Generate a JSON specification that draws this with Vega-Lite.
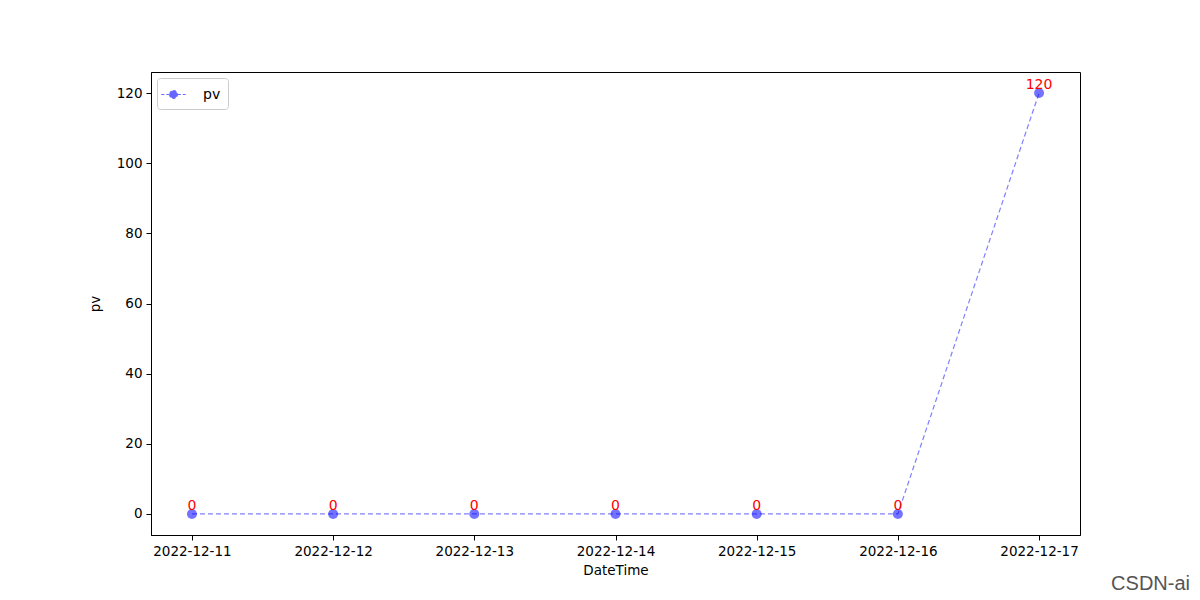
{
  "$schema": "https://vega.github.io/schema/vega-lite/v6.json",
  "autosize": {"type": "none"},
  "width": 929,
  "height": 463,
  "padding": {"left": 151, "top": 72, "right": 120, "bottom": 65},
  "background": "white",
  "config": {
    "font": "DejaVu Sans",
    "view": {"stroke": "black", "strokeWidth": 1},
    "axis": {"grid": false, "domainColor": "black", "tickColor": "black", "labelColor": "black", "titleColor": "black", "labelFontSize": 13.5, "titleFontSize": 13.5, "titleFontWeight": "normal", "tickSize": 5, "labelPadding": 4}
  },
  "data": {"values": [
    {"DateTime": "2022-12-11", "pv": 0, "series": "pv"},
    {"DateTime": "2022-12-12", "pv": 0, "series": "pv"},
    {"DateTime": "2022-12-13", "pv": 0, "series": "pv"},
    {"DateTime": "2022-12-14", "pv": 0, "series": "pv"},
    {"DateTime": "2022-12-15", "pv": 0, "series": "pv"},
    {"DateTime": "2022-12-16", "pv": 0, "series": "pv"},
    {"DateTime": "2022-12-17", "pv": 120, "series": "pv"}
  ]},
  "title": {"text": "CSDN-ai", "orient": "bottom", "anchor": "end", "frame": "group", "dx": 110, "offset": -3, "color": "#555555", "fontSize": 20, "fontWeight": "normal", "font": "Liberation Sans"},
  "encoding": {
    "x": {"field": "DateTime", "type": "ordinal", "scale": {"type": "point", "padding": 0.29}, "axis": {"labelAngle": 0, "title": "DateTime", "titlePadding": 6}},
    "y": {"field": "pv", "type": "quantitative", "scale": {"domain": [-6, 126], "nice": false, "zero": false}, "axis": {"values": [0, 20, 40, 60, 80, 100, 120], "title": "pv", "titlePadding": 14}}
  },
  "layer": [
    {
      "mark": {"type": "line", "strokeDash": [5, 3], "strokeWidth": 1.2, "opacity": 0.5, "point": {"filled": true, "size": 100, "opacity": 0.55, "color": "blue"}},
      "encoding": {
        "color": {"field": "series", "type": "nominal", "scale": {"range": ["blue"]}, "legend": {"title": null, "orient": "top-left", "offset": 6, "labelFontSize": 14, "labelColor": "black", "strokeColor": "#cccccc", "fillColor": "white", "padding": 7, "cornerRadius": 3, "symbolType": "M-1.4,0 L-0.5,0 M0.5,0 L1.4,0 M-0.45,0 A0.45,0.45 0 1,0 0.45,0 A0.45,0.45 0 1,0 -0.45,0", "symbolSize": 300, "symbolStrokeWidth": 1.2, "symbolDash": [3, 2], "symbolOpacity": 0.6, "symbolFillColor": "blue", "labelOffset": 20}}
      }
    },
    {
      "mark": {"type": "text", "color": "red", "fontSize": 14, "baseline": "bottom", "dy": -1},
      "encoding": {"text": {"field": "pv", "type": "quantitative"}}
    }
  ]
}
